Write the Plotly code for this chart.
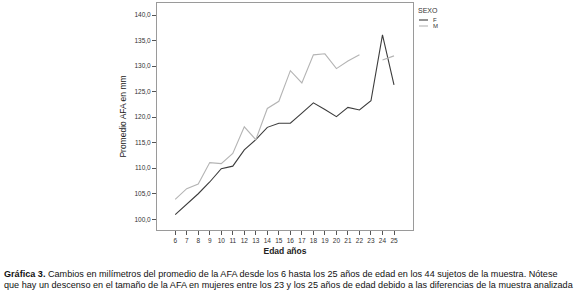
import plotly.graph_objects as go

ages = list(range(6, 26))
f_values = [100.9, 102.9, 105.0, 107.3, 109.9, 110.4, 113.6, 115.6, 118.0, 118.8,
            118.8, 120.8, 122.8, 121.5, 120.1, 121.9, 121.4, 123.2, 136.1, 126.3]
m_values = [103.9, 106.0, 106.9, 111.1, 110.9, 112.9, 118.1, 115.6, 121.7, 123.1,
            129.1, 126.7, 132.2, 132.4, 129.5, 131.0, 132.2, None, 131.2, 132.0]
y_ticks = [100, 105, 110, 115, 120, 125, 130, 135, 140]
series_names = ["F", "M"]
series_colors = ["#3c3c3c", "#b4b4b4"]

FONT = "Liberation Sans, Arial, sans-serif"
W, H = 580, 296
L, R, T, B = 157, 413, 3, 230

fig = go.Figure()
for name, vals, col in zip(series_names, [f_values, m_values], series_colors):
    fig.add_trace(go.Scatter(x=ages, y=vals, mode="lines", name=name,
                             line=dict(color=col, width=1.1),
                             connectgaps=False, showlegend=False))

fig.update_layout(
    width=W, height=H,
    margin=dict(l=L, r=W - R, t=T, b=H - B, autoexpand=False),
    paper_bgcolor="white", plot_bgcolor="white",
    separators=",.",
    font=dict(family=FONT, size=7, color="#222"),
    xaxis=dict(range=[4.42, 26.65], tickmode="array", tickvals=ages,
               ticktext=[str(a) for a in ages],
               showgrid=False, zeroline=False, showline=True, mirror=True,
               linecolor="#9a9a9a", linewidth=1,
               ticks="outside", ticklen=4, tickcolor="#555",
               tickfont=dict(size=6.5, color="#333"),
               title=dict(text="<b>Edad años</b>", font=dict(size=8.5, color="#222"),
                          standoff=5)),
    yaxis=dict(range=[97.9, 142.35], tickmode="array", tickvals=y_ticks,
               tickformat=".1f",
               showgrid=False, zeroline=False, showline=True, mirror=True,
               linecolor="#9a9a9a", linewidth=1,
               ticks="outside", ticklen=4, tickcolor="#555",
               tickfont=dict(size=6.5, color="#333"),
               title=dict(text="Promedio AFA en mm", font=dict(size=8.5, color="#222"),
                          standoff=6)),
)

def px(xp):
    return (xp - L) / (R - L)

def py(yp):
    return (B - yp) / (B - T)

# manual legend
fig.add_annotation(x=px(416), y=py(10), xref="paper", yref="paper", text="SEXO",
                   showarrow=False, xanchor="left", yanchor="middle",
                   font=dict(size=7, color="#333"))
for i, (name, col) in enumerate(zip(series_names, series_colors)):
    yy = 20 + 6 * i
    fig.add_shape(type="line", xref="paper", yref="paper",
                  x0=px(419), x1=px(428), y0=py(yy), y1=py(yy),
                  line=dict(color=col, width=1.1))
    fig.add_annotation(x=px(431), y=py(yy), xref="paper", yref="paper", text=name,
                       showarrow=False, xanchor="left", yanchor="middle",
                       font=dict(size=6, color="#333"))

caption1 = ("<b>Gráfica 3.</b> Cambios en milímetros del promedio de la AFA desde los 6 hasta "
            "los 25 años de edad en los 44 sujetos de la muestra. Nótese")
caption2 = ("que hay un descenso en el tamaño de la AFA en mujeres entre los 23 y los 25 años "
            "de edad debido a las diferencias de la muestra analizada")
for txt, yy in [(caption1, 274), (caption2, 285)]:
    fig.add_annotation(x=px(2), y=py(yy), xref="paper", yref="paper", text=txt,
                       showarrow=False, xanchor="left", yanchor="middle",
                       font=dict(size=9.1, color="#111"))

fig.write_html("out.html", config={"displayModeBar": False},
               post_script="document.body.style.margin='0';document.body.style.padding='0';")
